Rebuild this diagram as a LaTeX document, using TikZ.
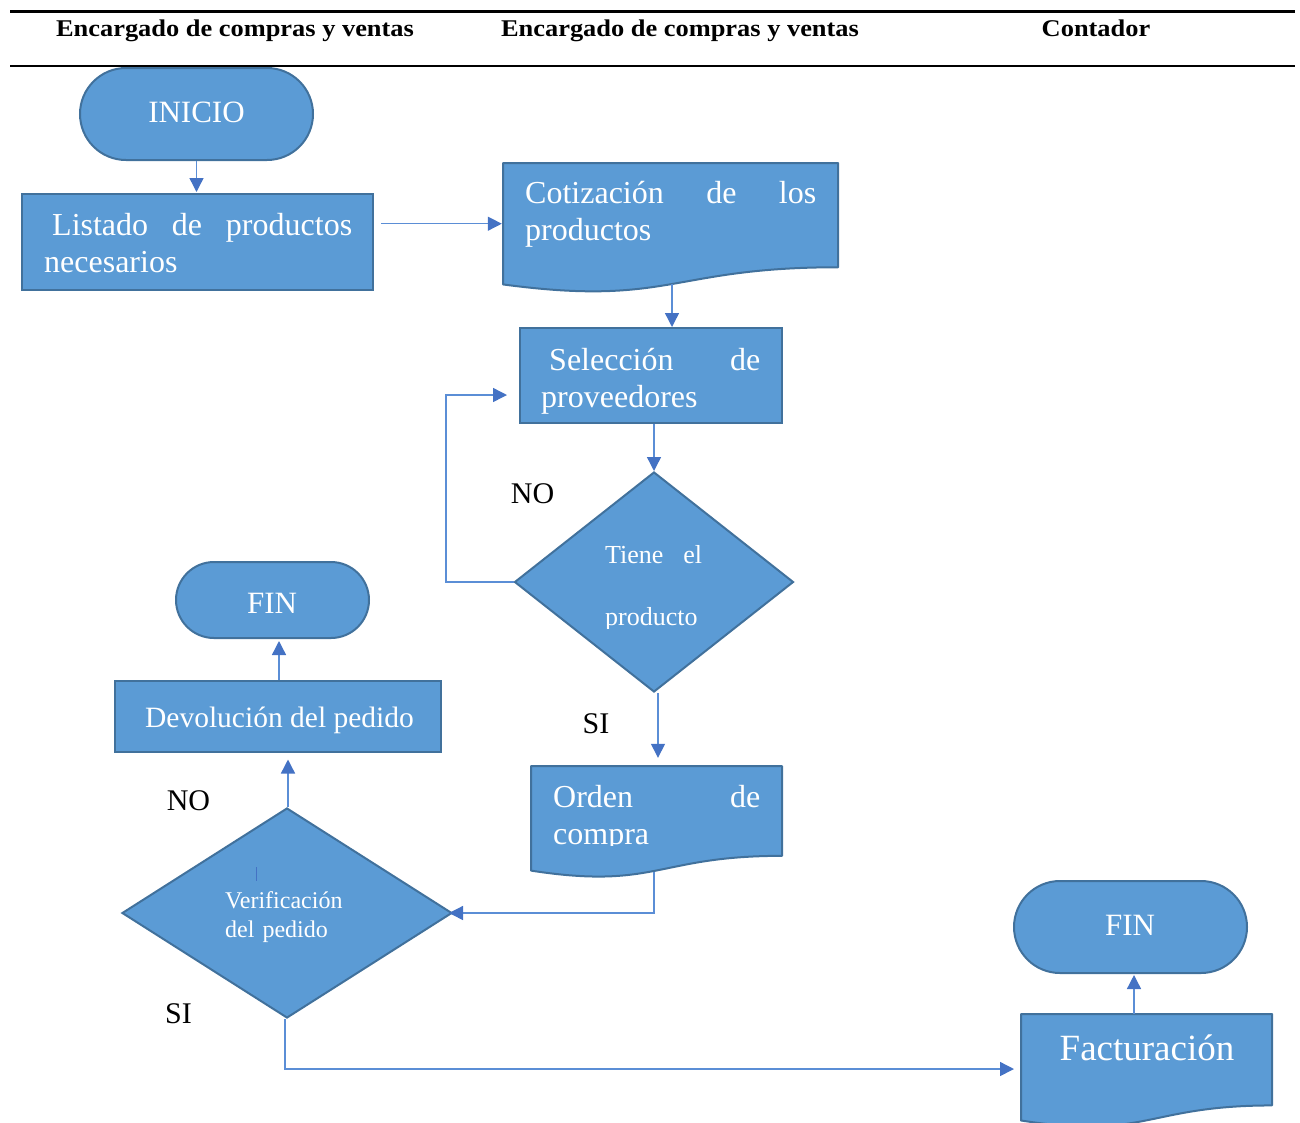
\documentclass[tikz,border=0pt]{standalone}
\usepackage{fontspec}
\usepackage{graphicx}
\setmainfont{Liberation Serif}
\usetikzlibrary{arrows.meta,shapes.geometric,calc}
\definecolor{boxfill}{HTML}{5B9BD5}
\definecolor{boxline}{HTML}{41719C}
\definecolor{connline}{HTML}{5B8ED6}
\definecolor{tipcol}{HTML}{4472C4}
\newcommand{\fsz}[2]{\fontsize{#1}{#2}\selectfont}
\newcommand{\flowdoc}[5]{%
  \draw[shapebox, line join=round] (#2,#3) -- (#4,#3) -- (#4,{#3+0.802*#5})
    .. controls ({(#2+#4)/2},{#3+0.802*#5}) and ({(#2+#4)/2},{#3+1.107*#5}) .. (#2,{#3+0.934*#5}) -- cycle;
  \node[area, minimum width={#4-#2}, minimum height={0.934*#5}] (#1) at ({(#2+#4)/2},{#3+0.467*#5}) {};}
\begin{document}
\begin{tikzpicture}[x=1pt,y=-1pt,
  shapebox/.style={draw=boxline, fill=boxfill, line width=2pt},
  procbox/.style={shapebox, rectangle, inner sep=0pt},
  termbox/.style={shapebox, rectangle, inner sep=0pt},
  decbox/.style={shapebox, diamond, inner sep=0pt},
  area/.style={inner sep=0pt, rectangle},
  conn/.style={draw=connline, line width=1.4pt, -{Triangle[length=14pt,width=14pt,color=tipcol]}},
  wtxt/.style={text=white, inner sep=0pt},
  ktxt/.style={text=black, inner sep=0pt},
  hdr/.style={ktxt, font=\fsz{24}{28}\bfseries, anchor=base},
  lbl/.style={ktxt, font=\fsz{30}{36}, anchor=base},
  para/.style={wtxt, align=left, anchor=base west}]
\useasboundingbox (0,0) rectangle (1300,1122);

% header
\draw[line width=2.5pt] (10,11.5) -- (1295,11.5);
\draw[line width=2.5pt] (10,66) -- (1295,66);
\node[hdr] (h1) at (235,36) {\scalebox{1.1}[1]{Encargado de compras y ventas}};
\node[hdr] (h2) at (680,36) {\scalebox{1.1}[1]{Encargado de compras y ventas}};
\node[hdr] (h3) at (1096,36) {\scalebox{1.1}[1]{Contador}};

% shapes
\node[termbox, rounded corners=46pt, minimum width=233pt, minimum height=92pt] (ini) at (196.5,114) {};
\node[procbox, minimum width=351pt, minimum height=96pt] (lis) at (197.5,242) {};
\flowdoc{cot}{503}{163}{838}{130}
\node[procbox, minimum width=262pt, minimum height=95pt] (sel) at (651,375.5) {};
\node[decbox, minimum width=279pt, minimum height=220pt] (tiene) at (654,582) {};
\flowdoc{ord}{531}{766}{782}{112}
\node[decbox, minimum width=330pt, minimum height=210pt] (verif) at (287,913) {};
\node[procbox, minimum width=326pt, minimum height=71pt] (devol) at (278,716) {};
\node[termbox, rounded corners=38pt, minimum width=193pt, minimum height=76pt] (fin1) at (272.5,600) {};
\node[termbox, rounded corners=46pt, minimum width=233pt, minimum height=92pt] (fin2) at (1130.5,927) {};
\flowdoc{fact}{1021}{1014}{1272}{114}

% texts
\node[wtxt, font=\fsz{31}{36}, anchor=base] (iniT) at (196.5,122) {INICIO};
\node[para, text width=308pt, font=\fsz{32}{37}] (lisT) at (44,235) {\hspace*{8pt}Listado\hfill de\hfill productos\\necesarios};
\node[para, text width=291pt, font=\fsz{32}{37}] (cotT) at (525,203) {Cotización\hfill de\hfill los\\productos};
\node[para, text width=219pt, font=\fsz{32}{37}] (selT) at (541,370) {\hspace*{8pt}Selección\hfill de\\proveedores};
\node[wtxt, font=\fsz{26}{30}, anchor=base west] (tieneT1) at (605,563) {\makebox[97pt][s]{Tiene el}};
\begin{scope}
  \clip (590,590) rectangle (720,628);
  \node[wtxt, font=\fsz{26}{30}, anchor=base west] (tieneT2) at (605,625) {producto};
\end{scope}
\begin{scope}
  \clip (540,780) rectangle (775,845);
  \node[para, text width=207pt, font=\fsz{32}{37}] (ordT) at (553,807) {Orden\hfill de\\compra};
\end{scope}
\node[para, text width=140pt, font=\fsz{24}{29}] (verT) at (225,908) {Verificación\\del pedido};
\node[wtxt, font=\fsz{29.5}{34}, anchor=base] (devT) at (279.5,727) {Devolución del pedido};
\node[wtxt, font=\fsz{31}{36}, anchor=base] (fin1T) at (272,613) {FIN};
\node[wtxt, font=\fsz{31}{36}, anchor=base] (fin2T) at (1130,935) {FIN};
\node[wtxt, font=\fsz{37}{42}, anchor=base] (factT) at (1147,1060) {Facturación};
\draw[tipcol, line width=0.8pt] (256,867) -- (256,881);

% labels
\node[lbl] (no1) at (532.5,503) {NO};
\node[lbl] (si1) at (596,733) {SI};
\node[lbl] (no2) at (188.5,810) {NO};
\node[lbl] (si2) at (178.5,1023) {SI};

% connectors
\draw[conn] (ini.south) -- ($(ini.south |- lis.north)+(0,-1)$);
\draw[conn] ($(lis.east |- cot.west)+(7,0)$) -- ($(cot.west)+(-1,0)$);
\coordinate (cotb) at (672,284);
\draw[conn] (cotb) -- (cotb |- sel.north);
\draw[conn] (tiene.north |- sel.south) -- (tiene.north);
\coordinate (loopc) at (446,395);
\coordinate (selin) at (507,395);
\draw[conn] (tiene.west) -| (loopc) -- (selin);
\draw[conn, shorten >=8pt] ($(tiene.south)+(4,0)$) -- ($(tiene.south |- ord.north)+(4,0)$);
\coordinate (ordb) at (654,872);
\draw[conn] (ordb) |- ($(verif.east)+(-4,0)$);
\draw[conn, shorten >=7pt] ($(verif.north)+(1,0)$) -- ($(verif.north |- devol.south)+(1,0)$);
\draw[conn, shorten >=2pt] ($(devol.north)+(1,0)$) -- ($(devol.north |- fin1.south)+(1,0)$);
\coordinate (factin) at (1014,1069);
\draw[conn] ($(verif.south)+(-2,0)$) |- (factin);
\coordinate (factt) at (1134,1014);
\draw[conn, shorten >=1pt] (factt) -- (factt |- fin2.south);
\end{tikzpicture}
\end{document}
